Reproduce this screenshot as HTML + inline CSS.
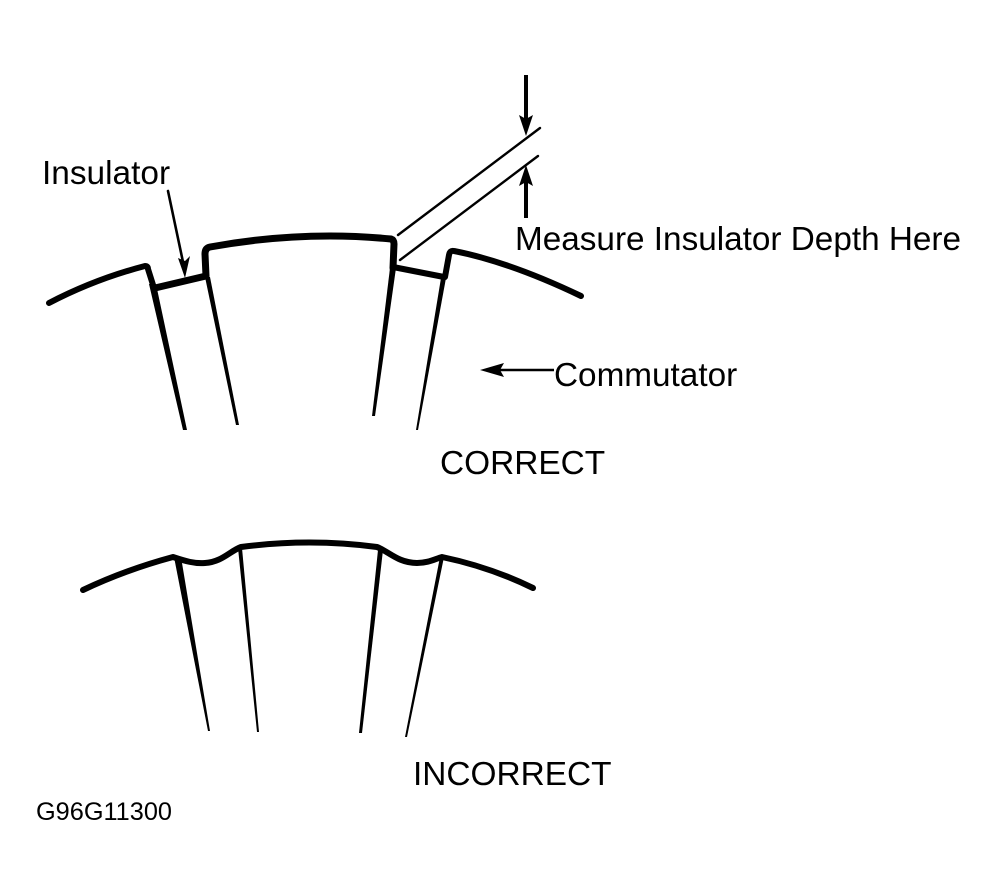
<!DOCTYPE html>
<html><head><meta charset="utf-8"><style>html,body{margin:0;padding:0;background:#fff}svg{display:block}text{font-family:"Liberation Sans",sans-serif;fill:#000}</style></head><body>
<svg width="997" height="895" viewBox="0 0 997 895" xmlns="http://www.w3.org/2000/svg">
<g fill="none" stroke="#000" stroke-linejoin="round" stroke-linecap="round">
<path d="M49 303Q95 279 145 266Q148 266 148 269L154 288" stroke-width="6"/>
<path d="M155 288L206 276" stroke-width="7"/>
<path d="M206 276L205 254Q205 248 210 247Q270 236 330 236Q360 236 391 239Q394 240 394 244L393 268" stroke-width="7"/>
<path d="M393 267L444 277" stroke-width="6"/>
<path d="M445 277L449 255Q450 250 454 251Q510 262 581 296" stroke-width="6"/>
<path d="M398 235L540 128M400 260L538 156" stroke-width="2.4"/>
<path d="M168 191L183 262" stroke-width="2.6"/>
<path d="M526 75V120M526 175V218" stroke-width="4" stroke-linecap="butt"/>
<path d="M500 370H554" stroke-width="2.4" stroke-linecap="butt"/>
<path d="M83 590Q125 570 173 557C185 561 195 564 205 563C222 562 230 551 241 547Q310 538 377 547C388 551 398 563 417 563C428 563 435 559 442 557Q490 567 533 588" stroke-width="6"/>
</g>
<g fill="#000">
<polygon points="149,284 156,284 187,430 183,430"/>
<polygon points="205,277 210,277 239,425 236,425"/>
<polygon points="390,268 396,268 375,416 372,416"/>
<polygon points="441,278 446,278 418,430 416,430"/>
<polygon points="174,557 181,557 210,731 208,731"/>
<polygon points="238,548 242,548 259,732 257,732"/>
<polygon points="378,550 383,550 362,733 359,733"/>
<polygon points="440,557 444,557 407,737 405,737"/>
<path d="M178 258L185 278L190 256L185 261Z"/>
<path d="M519 115L526 136L533 115L526 119Z"/>
<path d="M519 186L526 165L533 186L526 182Z"/>
<path d="M480 370L504 363L500 370L504 377Z"/>
</g>
<text x="42" y="184" font-size="33.4">Insulator</text>
<text x="515" y="250" font-size="33.3">Measure Insulator Depth Here</text>
<text x="554" y="386" font-size="33.3">Commutator</text>
<text x="440" y="474" font-size="33.4">CORRECT</text>
<text x="413" y="785" font-size="33.4">INCORRECT</text>
<text x="36" y="820" font-size="25.3">G96G11300</text>
</svg>
</body></html>
